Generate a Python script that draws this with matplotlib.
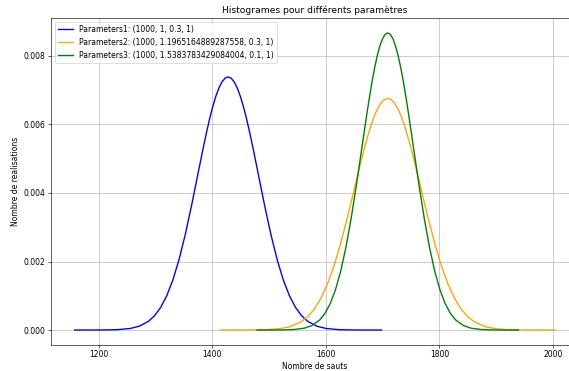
import matplotlib
matplotlib.use('Agg')
import matplotlib.pyplot as plt

DPI = 55

# Densities of the number of jumps for three parameter sets
labels = [
    'Parameters1: (1000, 1, 0.3, 1)',
    'Parameters2: (1000, 1.1965164889287558, 0.3, 1)',
    'Parameters3: (1000, 1.5383783429084004, 0.1, 1)',
]
colors = ['blue', 'orange', 'green']

x1 = [1158, 1185, 1212, 1233.6, 1255.2, 1271.4, 1287.6, 1298.4, 1309.2, 1320,
      1330.8, 1341.6, 1352.4, 1363.2, 1374, 1384.8, 1390.2, 1395.6, 1401,
      1406.4, 1411.8, 1417.2, 1422.6, 1428, 1433.4, 1438.8, 1444.2, 1449.6,
      1455, 1460.4, 1465.8, 1471.2, 1482, 1492.8, 1503.6, 1514.4, 1525.2, 1536,
      1546.8, 1557.6, 1568.4, 1584.6, 1600.8, 1622.4, 1644, 1671, 1698]
y1 = [0.0, 0.0000003, 0.0000025, 0.0000113, 0.0000441, 0.000110, 0.000251,
      0.000415, 0.000657, 0.001000, 0.001462, 0.002054, 0.002773, 0.003596,
      0.004481, 0.005365, 0.005782, 0.006171, 0.006520, 0.006820, 0.007063,
      0.007241, 0.007351, 0.007388, 0.007351, 0.007241, 0.007063, 0.006820,
      0.006520, 0.006171, 0.005782, 0.005365, 0.004481, 0.003596, 0.002773,
      0.002054, 0.001462, 0.001000, 0.000657, 0.000415, 0.000251, 0.000110,
      0.0000441, 0.0000113, 0.0000025, 0.0000003, 0.0]

x2 = [1414, 1443.5, 1473, 1496.6, 1520.2, 1537.9, 1555.6, 1567.4, 1579.2, 1591,
      1602.8, 1614.6, 1626.4, 1638.2, 1650, 1661.8, 1667.7, 1673.6, 1679.5,
      1685.4, 1691.3, 1697.2, 1703.1, 1709, 1714.9, 1720.8, 1726.7, 1732.6,
      1738.5, 1744.4, 1750.3, 1756.2, 1768, 1779.8, 1791.6, 1803.4, 1815.2, 1827,
      1838.8, 1850.6, 1862.4, 1880.1, 1897.8, 1921.4, 1945, 1974.5, 2004]
y2 = [0.0, 0.0000003, 0.0000023, 0.0000103, 0.0000403, 0.000101, 0.000230,
      0.000379, 0.000601, 0.000915, 0.001338, 0.001880, 0.002538, 0.003291,
      0.004101, 0.004910, 0.005292, 0.005648, 0.005967, 0.006242, 0.006464,
      0.006628, 0.006728, 0.006762, 0.006728, 0.006628, 0.006464, 0.006242,
      0.005967, 0.005648, 0.005292, 0.004910, 0.004101, 0.003291, 0.002538,
      0.001880, 0.001338, 0.000915, 0.000601, 0.000379, 0.000230, 0.000101,
      0.0000403, 0.0000103, 0.0000023, 0.0000003, 0.0]

x3 = [1479, 1502, 1525, 1543.4, 1561.8, 1575.6, 1589.4, 1598.6, 1607.8, 1617,
      1626.2, 1635.4, 1644.6, 1653.8, 1663, 1672.2, 1676.8, 1681.4, 1686,
      1690.6, 1695.2, 1699.8, 1704.4, 1709, 1713.6, 1718.2, 1722.8, 1727.4,
      1732, 1736.6, 1741.2, 1745.8, 1755, 1764.2, 1773.4, 1782.6, 1791.8, 1801,
      1810.2, 1819.4, 1828.6, 1842.4, 1856.2, 1874.6, 1893, 1916, 1939]
y3 = [0.0, 0.0000003, 0.0000029, 0.0000133, 0.0000517, 0.000129, 0.000295,
      0.000487, 0.000771, 0.001174, 0.001716, 0.002411, 0.003255, 0.004222,
      0.005260, 0.006298, 0.006788, 0.007244, 0.007654, 0.008006, 0.008291,
      0.008501, 0.008629, 0.008673, 0.008629, 0.008501, 0.008291, 0.008006,
      0.007654, 0.007244, 0.006788, 0.006298, 0.005260, 0.004222, 0.003255,
      0.002411, 0.001716, 0.001174, 0.000771, 0.000487, 0.000295, 0.000129,
      0.0000517, 0.0000133, 0.0000029, 0.0000003, 0.0]


def main():
    fig = plt.figure(figsize=(569 / DPI, 371 / DPI), dpi=DPI)
    ax = fig.add_axes([0.0891, 0.0704, 0.929, 0.881])

    for xs, ys, color, label in zip([x1, x2, x3], [y1, y2, y3], colors, labels):
        ax.plot(xs, ys, color=color, label=label, linewidth=1.8)

    ax.set_title('Histogrames pour différents paramètres', fontsize=12)
    ax.set_xlabel('Nombre de sauts')
    ax.set_ylabel('Nombre de realisations')
    ax.legend(loc='upper left')
    ax.grid(True)

    fig.savefig('out.png', dpi=DPI)


if __name__ == '__main__':
    main()
